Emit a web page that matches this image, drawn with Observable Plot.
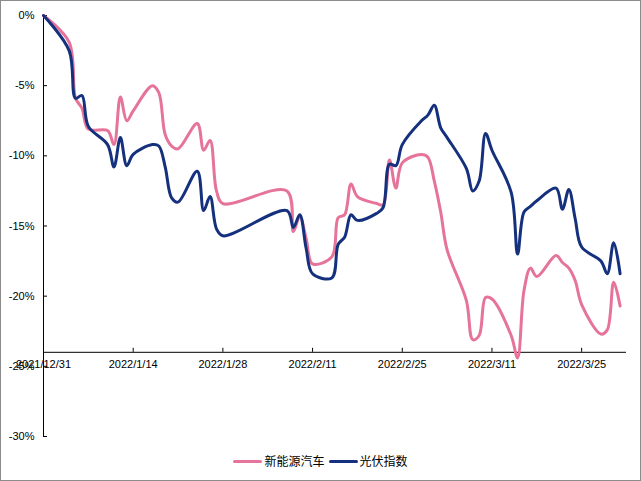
<!DOCTYPE html>
<html>
<head>
<meta charset="utf-8">
<script src="https://cdn.jsdelivr.net/npm/d3@7"></script>
<script src="https://cdn.jsdelivr.net/npm/@observablehq/plot@0.6"></script>
<style>
  body { margin: 0; background: #fff; }
  #chart { position: relative; width: 641px; height: 481px; box-sizing: border-box; border: 1px solid #8c8c8c; background: #fff; overflow: hidden; }
  #chart svg { display: block; }
  #legend { position: absolute; left: 0; right: 0; top: 452px; display: flex; justify-content: center; align-items: center; font-family: "Noto Sans CJK SC", sans-serif; font-size: 12px; line-height: 16px; color: #000; }
  .item { display: flex; align-items: center; margin: 0 2px; }
  .swatch { display: inline-block; width: 29px; height: 3px; border-radius: 1.5px; margin-right: 2px; }
</style>
</head>
<body>
<div id="chart"><div id="legend"></div></div>
<script>
// ---- data (values in %) ----
const dates = [
  "2021-12-31",
  "2022-01-04","2022-01-05","2022-01-06","2022-01-07",
  "2022-01-10","2022-01-11","2022-01-12","2022-01-13","2022-01-14",
  "2022-01-17","2022-01-18","2022-01-19","2022-01-20","2022-01-21",
  "2022-01-24","2022-01-25","2022-01-26","2022-01-27","2022-01-28",
  "2022-02-07","2022-02-08","2022-02-09","2022-02-10","2022-02-11",
  "2022-02-14","2022-02-15","2022-02-16","2022-02-17","2022-02-18",
  "2022-02-21","2022-02-22","2022-02-23","2022-02-24","2022-02-25",
  "2022-02-28","2022-03-01","2022-03-02","2022-03-03","2022-03-04",
  "2022-03-07","2022-03-08","2022-03-09","2022-03-10","2022-03-11",
  "2022-03-14","2022-03-15","2022-03-16","2022-03-17","2022-03-18",
  "2022-03-21","2022-03-22","2022-03-23","2022-03-24","2022-03-25",
  "2022-03-28","2022-03-29","2022-03-30","2022-03-31"
];
// 新能源汽车
const evValues = [
  0,
  -1.9, -5.9, -6.6, -8.1,
  -8.2, -9.2, -5.8, -7.5, -6.8,
  -5.0, -5.5, -8.5, -9.3, -9.5,
  -7.7, -9.6, -8.9, -12.5, -13.4,
  -12.5, -15.4, -14.3, -15.9, -17.7,
  -17.2, -14.4, -14.2, -12.0, -12.9,
  -13.4, -13.5, -10.3, -12.3, -10.5,
  -9.9, -10.1, -11.8, -14.0, -16.7,
  -20.3, -23.1, -22.8, -20.1, -20.2,
  -22.8, -24.4, -19.6, -18.0, -18.6,
  -17.1, -17.6, -18.0, -18.9, -20.6,
  -22.7, -22.4, -19.0, -20.7
];
// 光伏指数
const pvValues = [
  0,
  -2.5, -5.9, -5.7, -7.9,
  -9.2, -10.8, -8.7, -10.7, -9.9,
  -9.2, -9.3, -10.8, -13.0, -13.3,
  -11.1, -13.9, -12.9, -15.2, -15.7,
  -13.9, -15.1, -14.2, -16.6, -18.4,
  -18.7, -16.3, -15.8, -14.2, -14.6,
  -14.1, -13.7, -10.6, -10.7, -9.2,
  -7.5, -7.1, -6.4, -8.0, -8.7,
  -10.9, -12.5, -11.8, -8.4, -9.6,
  -12.6, -17.0, -14.0, -13.6, -13.2,
  -12.3, -13.8, -12.4, -14.5, -16.5,
  -17.5, -18.4, -16.2, -18.4
];
const seriesNames = ["新能源汽车", "光伏指数"];
const seriesColors = ["#E6739A", "#15317E"];
const yTicks = [0, -5, -10, -15, -20, -25, -30];
const yDomain = [-30, 0];
const xTicks = ["2021-12-31","2022-01-14","2022-01-28","2022-02-11","2022-02-25","2022-03-11","2022-03-25"];
const xDomain = ["2021-12-31", "2022-04-01"];
const xCross = -24; // horizontal axis crosses here

// ---- build ----
const parse = d3.utcParse("%Y-%m-%d");
const rows = [];
seriesNames.forEach((name, s) => {
  const vals = s === 0 ? evValues : pvValues;
  dates.forEach((d, i) => rows.push({date: parse(d), value: vals[i], series: name}));
});
const fmtDate = d => `${d.getUTCFullYear()}/${d.getUTCMonth() + 1}/${d.getUTCDate()}`;
const xTickDates = xTicks.map(parse);
const xDom = xDomain.map(parse);

const base = {
  width: 639, height: 444,
  marginLeft: 42, marginRight: 14, marginTop: 14, marginBottom: 9,
  x: {type: "utc", domain: xDom},
  y: {domain: yDomain},
  color: {domain: seriesNames, range: seriesColors},
  style: {fontFamily: "'Liberation Sans', Arial, sans-serif", fontSize: "11px", color: "#000", background: "#fff"}
};
const probe = Plot.plot({...base, marks: [Plot.ruleY([xCross])]});
const ys = probe.scale("y");
const shift = ys.apply(xCross) - ys.apply(yDomain[0]);

const chart = Plot.plot({
  ...base,
  marks: [
    Plot.axisY(yTicks, {tickSize: 0, tickPadding: 9, tickFormat: d => d + "%", label: null}),
    Plot.axisY(yTicks, {tickSize: 4, dx: 4, fill: "none", tickFormat: () => "", label: null, stroke: "#000"}),
    Plot.axisX(xTickDates, {anchor: "bottom", tickSize: 4, dy: shift - 4, fill: "none", tickFormat: () => "", label: null, stroke: "#000"}),
    Plot.axisX(xTickDates, {anchor: "bottom", tickSize: 0, tickPadding: 8, dy: shift, tickFormat: fmtDate, label: null}),
    Plot.ruleX([xDom[0]], {stroke: "#000", strokeWidth: 1}),
    Plot.ruleY([xCross], {stroke: "#000", strokeWidth: 1}),
    Plot.line(rows, {x: "date", y: "value", z: "series", stroke: "series", strokeWidth: 3, curve: "catmull-rom"})
  ]
});
const host = document.getElementById("chart");
host.insertBefore(chart, host.firstChild);

const legend = document.getElementById("legend");
seriesNames.forEach((name, i) => {
  const item = document.createElement("span");
  item.className = "item";
  const sw = document.createElement("span");
  sw.className = "swatch";
  sw.style.background = seriesColors[i];
  const tx = document.createElement("span");
  tx.textContent = name;
  item.appendChild(sw);
  item.appendChild(tx);
  legend.appendChild(item);
});
</script>
</body>
</html>
